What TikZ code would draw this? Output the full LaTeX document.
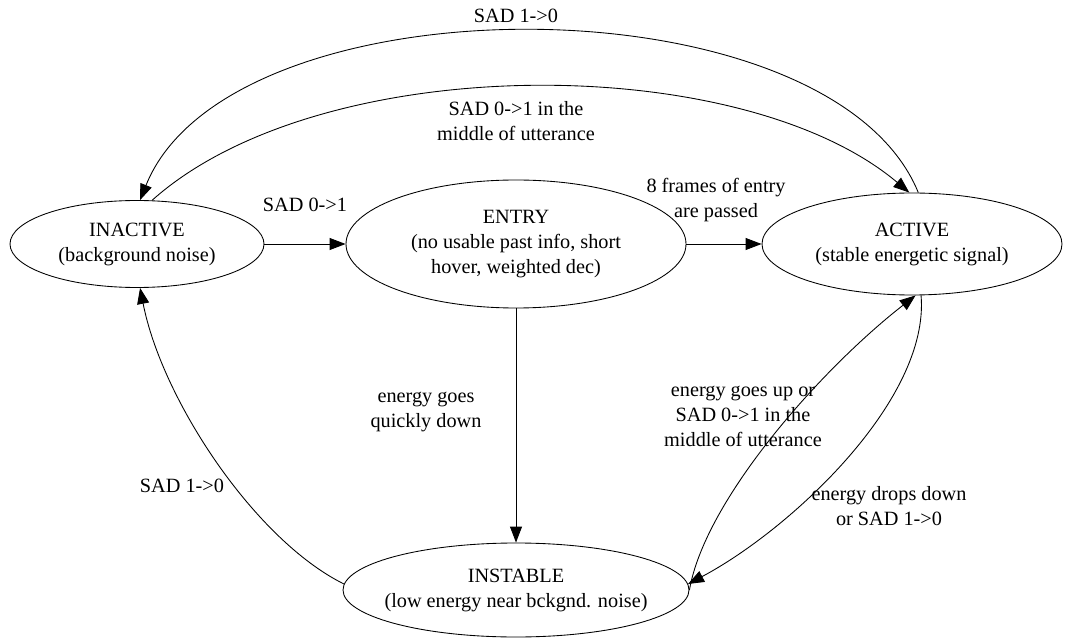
\documentclass[tikz,border=0pt]{standalone}
\usepackage{fontspec}
\newfontfamily\gvserif{LiberationSerif}[Extension=.ttf, UprightFont=*-Regular]
\usetikzlibrary{shapes.geometric,arrows.meta}
\begin{document}
\begin{tikzpicture}[x=0.75pt,y=-0.75pt,
  state/.style={draw, ellipse, line width=0.65pt, inner sep=0pt},
  txt/.style={align=center, font=\gvserif\fontsize{15.2}{18.75}\selectfont, inner sep=0pt},
  edge/.style={draw, line width=0.65pt, -{Triangle[length=12pt,width=9pt]}},
]
\useasboundingbox (0,0) rectangle (1066,641);
% states
\node[state, minimum width=190.5pt, minimum height=65.25pt] (inactive) at (137,244) {};
\node[state, minimum width=255pt, minimum height=96pt] (entry) at (516,244) {};
\node[state, minimum width=225pt, minimum height=76.5pt] (active) at (912,244) {};
\node[state, minimum width=259.5pt, minimum height=70.5pt] (instable) at (516,590) {};
\node[txt] (inactiveT) at (inactive.center) {INACTIVE\\(background noise)};
\node[txt] (entryT) at (entry.center) {ENTRY\\(no usable past info, short\\hover, weighted dec)};
\node[txt] (activeT) at (active.center) {ACTIVE\\(stable energetic signal)};
\node[txt] (instableT) at (instable.center) {INSTABLE\\(low energy near bckgnd. noise)};
% edges
\draw[edge] (inactive) -- (entry);
\draw[edge] (entry) -- (active);
\draw[edge] (entry) -- (instable);
\draw[edge] (active.83) .. controls (830,-24) and (230,-24) .. (inactive.86);
\draw[edge] (inactive.71) .. controls (320,50) and (740,50) .. (active.93);
\draw[edge] (instable.178) .. controls (255,540) and (162,400) .. (inactive.274);
\draw[edge] (instable.0) .. controls (705,500) and (820,370) .. (active.274.5);
\draw[edge] (active.280) .. controls (930,400) and (790,530) .. (instable.2);
% labels
\node[txt] (l1) at (516,16) {SAD 1->0};
\node[txt] (l2) at (516,121) {SAD 0->1 in the\\middle of utterance};
\node[txt] (l3) at (305,205) {SAD 0->1};
\node[txt] (l4) at (716,200) {8 frames of entry\\are passed};
\node[txt] (l5) at (426,412) {energy goes\\quickly down};
\node[txt] (l6) at (182,486) {SAD 1->0};
\node[txt] (l7) at (743,416) {energy goes up or\\SAD 0->1 in the\\middle of utterance};
\node[txt] (l8) at (889,506) {energy drops down\\or SAD 1->0};
\end{tikzpicture}
\end{document}
